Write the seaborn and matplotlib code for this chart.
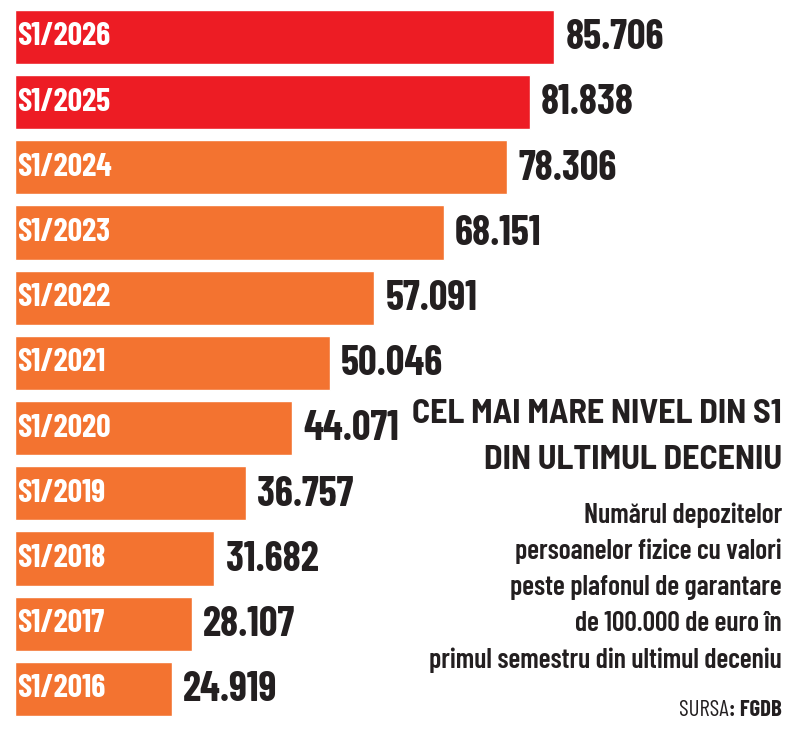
import matplotlib
matplotlib.use("Agg")
import matplotlib.pyplot as plt
import pandas as pd
import seaborn as sns

periods = ["S1/2026", "S1/2025", "S1/2024", "S1/2023", "S1/2022", "S1/2021",
           "S1/2020", "S1/2019", "S1/2018", "S1/2017", "S1/2016"]
deposits = [85706, 81838, 78306, 68151, 57091, 50046, 44071, 36757, 31682, 28107, 24919]
value_labels = ["85.706", "81.838", "78.306", "68.151", "57.091", "50.046",
                "44.071", "36.757", "31.682", "28.107", "24.919"]
highlight = ["S1/2026", "S1/2025"]

title_lines = ["CEL MAI MARE NIVEL DIN S1", "DIN ULTIMUL DECENIU"]
subtitle_lines = ["Numărul depozitelor", "persoanelor fizice cu valori",
                  "peste plafonul de garantare", "de 100.000 de euro în",
                  "primul semestru din ultimul deceniu"]

RED = "#ED1C24"
ORANGE = "#F37330"
INK = "#231F20"

sns.set_style("white")
plt.rcParams["font.family"] = ["Barlow Condensed", "DejaVu Sans"]

df = pd.DataFrame({"period": periods, "deposits": deposits})
df["group"] = ["hi" if p in highlight else "lo" for p in periods]

fig = plt.figure(figsize=(8.01, 7.41), dpi=100)
ax = fig.add_axes([0, 0, 1, 1])
sns.barplot(data=df, x="deposits", y="period", hue="group",
            palette={"hi": RED, "lo": ORANGE}, dodge=False, width=0.83,
            legend=False, ax=ax, saturation=1)
ax.set_xlim(-2385, 124980)
ax.set_ylim(10.8, -0.567)
ax.axis("off")

for i, (v, lab, p) in enumerate(zip(deposits, value_labels, periods)):
    ax.text(300, i, p, color="white", fontsize=23, fontweight="bold",
            va="center", ha="left")
    ax.text(v + 1800, i + 0.02, lab, color=INK, fontsize=29.5, fontweight="bold",
            va="center", ha="left")

x_right = 782 / 801
title_font = ["Barlow Semi Condensed", "DejaVu Sans"]
fig.text(x_right, 1 - 414 / 741, title_lines[0], color=INK, fontsize=24.5,
         fontweight="bold", ha="right", va="center", family=title_font)
fig.text(x_right, 1 - 460 / 741, title_lines[1], color=INK, fontsize=24.5,
         fontweight="bold", ha="right", va="center", family=title_font)
for k, line in enumerate(subtitle_lines):
    fig.text(x_right, 1 - (515 + 36.3 * k) / 741, line, color=INK, fontsize=20,
             fontweight="semibold", ha="right", va="center")
src = fig.text(x_right, 1 - 710 / 741, ": FGDB", color=INK, fontsize=16.5,
               fontweight="bold", ha="right", va="center")
fig.canvas.draw()
bb = src.get_window_extent()
fig.text((bb.x0 - 0.5) / fig.bbox.width, 1 - 710 / 741, "SURSA", color=INK,
         fontsize=16.5, ha="right", va="center")

fig.savefig("out.png", dpi=100, facecolor="white")
